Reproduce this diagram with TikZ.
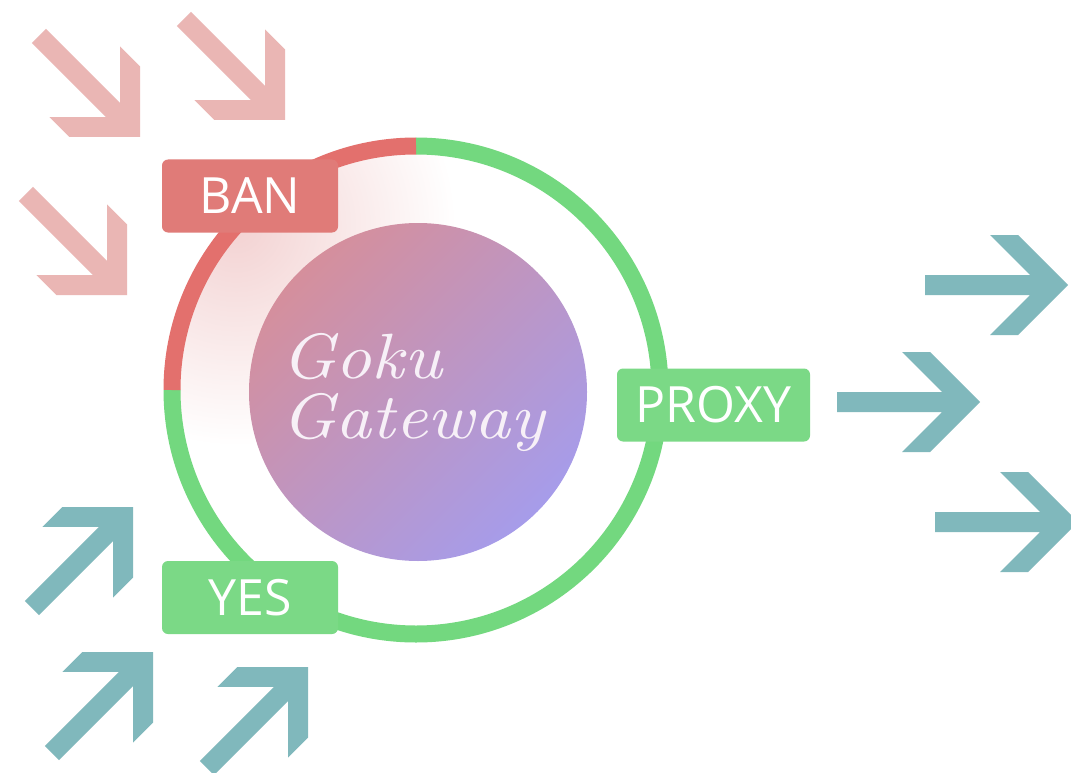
\documentclass[tikz,border=0pt]{standalone}
\usepackage{fontspec}
\newfontfamily\labelfont{Open Sans}
\newfontfamily\corefont{lmroman10-italic}[Extension=.otf]
\definecolor{ringred}{HTML}{E3706D}
\definecolor{ringgreen}{HTML}{73D87F}
\definecolor{boxred}{HTML}{E07B78}
\definecolor{boxgreen}{HTML}{7BD986}
\definecolor{pinkarrow}{HTML}{EAB6B4}
\definecolor{tealarrow}{HTML}{80B8BC}
\definecolor{coretop}{HTML}{D58F9C}
\definecolor{coremid}{HTML}{BDA6D8}
\definecolor{corebot}{HTML}{A69CEA}
\definecolor{glow}{HTML}{F3D2D2}
\tikzset{
  x=1pt, y=1pt,
  ringseg/.style={line width=17pt},
  tag/.style={rectangle, rounded corners=6pt, minimum width=176pt, minimum height=73pt,
    inner sep=0pt, text=white, font=\labelfont\fontsize{50}{60}\selectfont},
  coretext/.style={anchor=base west, inner sep=0pt, text=white!94!violet, align=left,
    transform shape, xscale=1.1,
    font=\corefont\fontsize{64}{60}\selectfont},
  chevarrow/.pic={
    \path[pic actions] (-143,10) -- (-38,10) -- (-78,50) -- (-50,50) -- (0,0)
      -- (-50,-50) -- (-78,-50) -- (-38,-10) -- (-143,-10) -- cycle;
  }
}
\begin{document}
\begin{tikzpicture}
\useasboundingbox (0,0) rectangle (1071,-773);
\fill[white] (0,0) rectangle (1071,-773);
% glow inside ring
\begin{scope}
  \clip (416,-390) circle (236);
  \shade[inner color=glow, outer color=white] (236,-226) circle (220);
\end{scope}
% ring
\coordinate (rc) at (416,-390);
\draw[ringseg, ringgreen] (rc) ++(180:244) arc[start angle=180, end angle=450, radius=244];
\draw[ringseg, ringred] (rc) ++(90:244) arc[start angle=90, end angle=180, radius=244];
% core
\node[circle, minimum size=338pt, inner sep=0pt,
  top color=coretop, middle color=coremid, bottom color=corebot, shading angle=45] (core) at (418,-392) {};
\node[coretext] (title) at (281,-438) {Goku\\Gateway};
% tags
\node[tag, fill=boxred] (ban) at (250,-196) {BAN};
\node[tag, fill=boxgreen] (yes) at (250,-597.5) {YES};
\node[tag, fill=boxgreen, minimum width=193pt] (proxy) at (713.5,-405) {PROXY};
% incoming banned arrows
\pic[fill=pinkarrow, rotate=-45] at (140,-137) {chevarrow};
\pic[fill=pinkarrow, rotate=-45] at (285,-120) {chevarrow};
\pic[fill=pinkarrow, rotate=-45] at (127,-295) {chevarrow};
% incoming accepted arrows
\pic[fill=tealarrow, rotate=45] at (133,-507) {chevarrow};
\pic[fill=tealarrow, rotate=45] at (153,-652) {chevarrow};
\pic[fill=tealarrow, rotate=45] at (308,-667) {chevarrow};
% outgoing proxied arrows
\pic[fill=tealarrow] at (1068,-285) {chevarrow};
\pic[fill=tealarrow] at (980,-402) {chevarrow};
\pic[fill=tealarrow] at (1078,-522) {chevarrow};
\end{tikzpicture}
\end{document}
